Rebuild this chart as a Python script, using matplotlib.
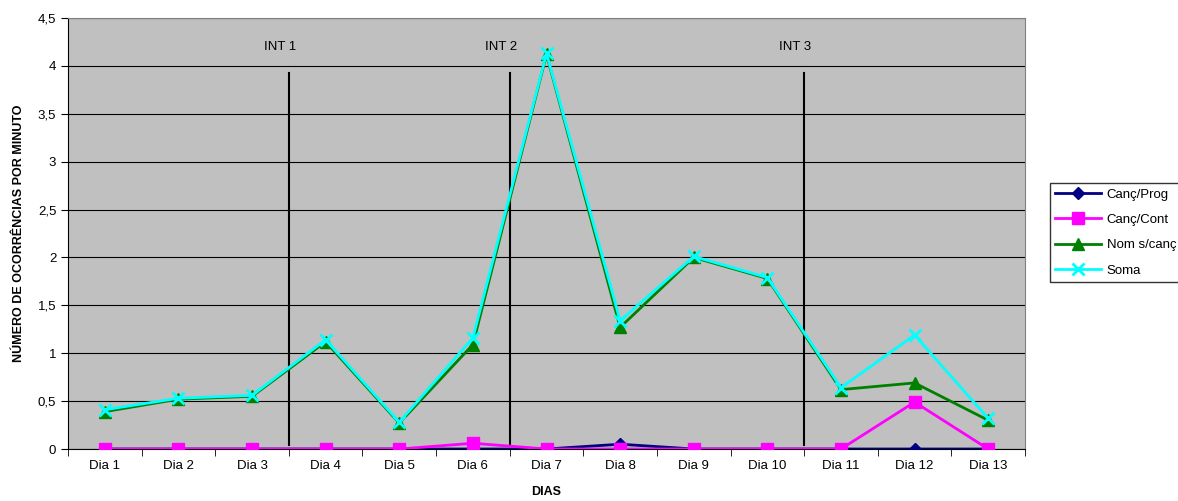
import matplotlib.pyplot as plt
import numpy as np

plt.rcParams['font.family'] = ['Liberation Sans', 'DejaVu Sans']

dias = ['Dia 1', 'Dia 2', 'Dia 3', 'Dia 4', 'Dia 5', 'Dia 6', 'Dia 7',
        'Dia 8', 'Dia 9', 'Dia 10', 'Dia 11', 'Dia 12', 'Dia 13']
canc_prog = [0, 0, 0, 0, 0, 0, 0, 0.05, 0, 0, 0, 0, 0]
canc_cont = [0, 0, 0, 0, 0, 0.06, 0, 0, 0, 0, 0, 0.49, 0]
nom_scanc = [0.39, 0.52, 0.55, 1.12, 0.27, 1.09, 4.12, 1.27, 2.0, 1.78, 0.62, 0.69, 0.30]
soma = [0.41, 0.53, 0.56, 1.14, 0.28, 1.16, 4.13, 1.34, 2.01, 1.79, 0.64, 1.19, 0.32]

intervalos = ['INT 1', 'INT 2', 'INT 3']
int_pos = [2.5, 5.5, 9.5]

fig = plt.figure(figsize=(11.78, 5.01), dpi=100)
ax = fig.add_axes([68 / 1178, 52 / 501, 957 / 1178, 431 / 501])
ax.set_facecolor('#C0C0C0')

x = np.arange(len(dias))
ax.plot(x, canc_prog, color='#000080', marker='D', markersize=6, lw=2, label='Canç/Prog', zorder=3)
ax.plot(x, canc_cont, color='#FF00FF', marker='s', markersize=9, lw=2, label='Canç/Cont', zorder=4)
ax.plot(x, nom_scanc, color='#008000', marker='^', markersize=9, lw=2, label='Nom s/canç', zorder=5)
ax.plot(x, soma, color='#00FFFF', marker='x', markersize=9, mew=2, lw=2, label='Soma', zorder=6)

# linhas que separam os intervalos
for name, pos in zip(intervalos, int_pos):
    ax.plot([pos, pos], [0.04, 3.93], color='black', lw=1.5, zorder=2)
    ax.text(pos - 0.12, 4.2, name, ha='center', va='center', fontsize=9.5)

ax.set_xlim(-0.5, len(dias) - 0.5)
ax.set_ylim(0, 4.5)
ax.set_xticks(x)
ax.set_xticklabels(dias, fontsize=9.5)
ax.set_xticks(np.arange(-0.5, len(dias)), minor=True)
ax.tick_params(axis='x', which='major', length=0, pad=8)
ax.tick_params(axis='x', which='minor', length=5, direction='out')
yt = np.arange(0, 4.51, 0.5)
ax.set_yticks(yt)
ax.set_yticklabels([f'{v:g}'.replace('.', ',') for v in yt], fontsize=9.5)
ax.tick_params(axis='y', length=5, direction='out')
ax.yaxis.grid(True, color='black', lw=0.8)
ax.set_axisbelow(True)
for s in ['top', 'right']:
    ax.spines[s].set_color('#808080')
for s in ['left', 'bottom']:
    ax.spines[s].set_color('black')

ax.set_ylabel('NÚMERO DE OCORRÊNCIAS POR MINUTO', fontsize=9, fontweight='bold', labelpad=9)
ax.set_xlabel('DIAS', fontsize=9, fontweight='bold', labelpad=10)

leg = fig.legend(loc='upper left', bbox_to_anchor=(1050 / 1178, 1 - 183 / 501),
                 fontsize=9.5, frameon=True, fancybox=False, edgecolor='black',
                 handlelength=3.5, handletextpad=0.4, borderaxespad=0,
                 labelspacing=1.0)
leg.get_frame().set_linewidth(1)

fig.savefig('out.png', dpi=100)
